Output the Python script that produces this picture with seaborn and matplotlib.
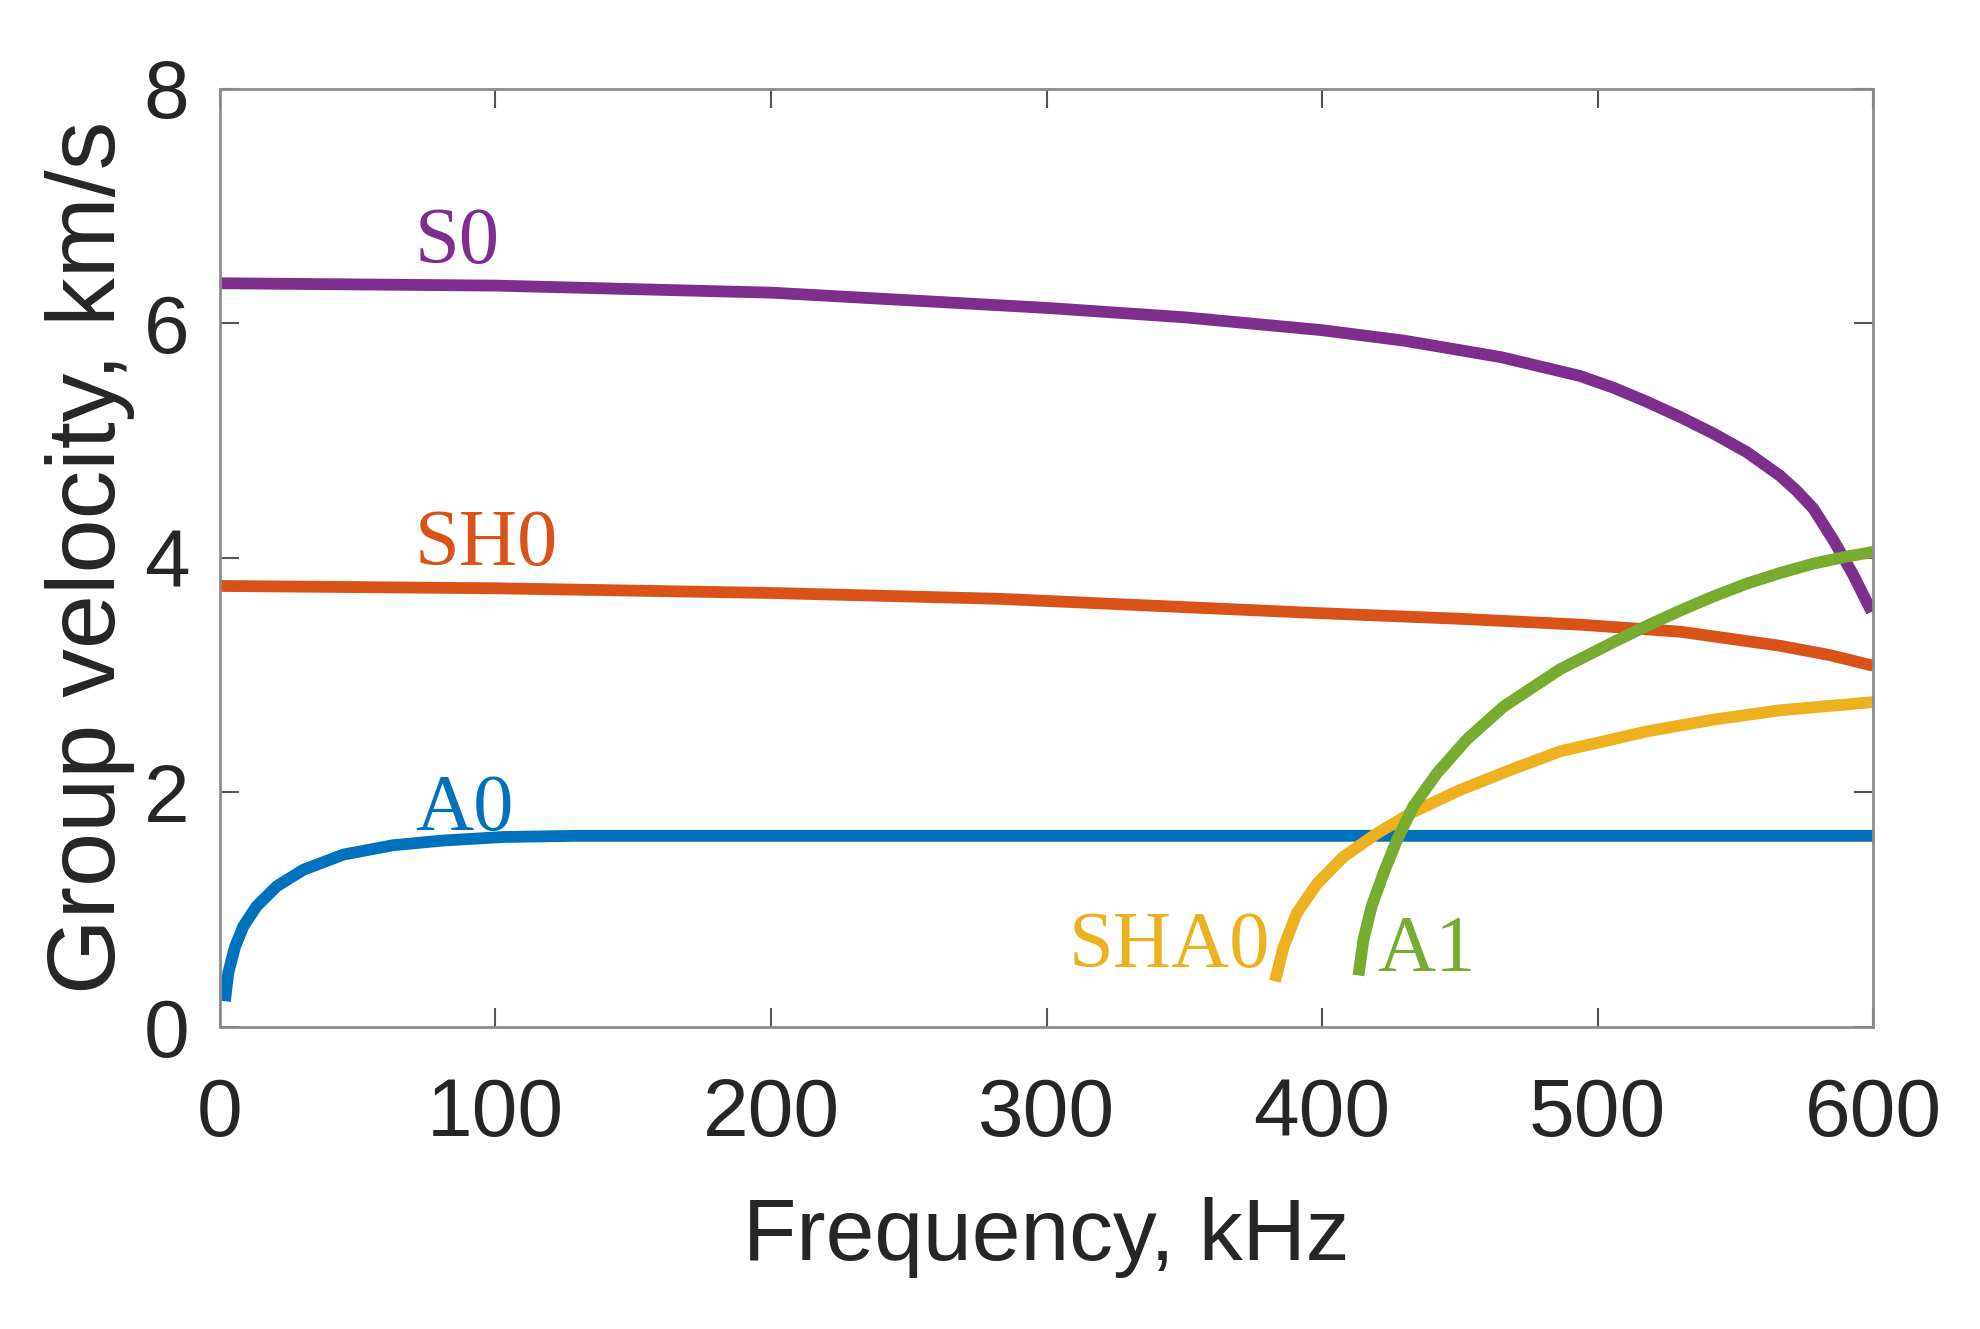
import pandas as pd
import matplotlib
matplotlib.use("Agg")
import matplotlib.pyplot as plt
import seaborn as sns

# group velocity curves (kHz, km/s)
s0_f = [0, 100, 200, 300, 350, 400, 430, 465, 493.6, 505.7, 517.9, 530, 542, 554.2,
        566.2, 572.3, 578.3, 585.6, 592.9, 599.5]
s0_v = [6.34, 6.32, 6.26, 6.13, 6.05, 5.94, 5.85, 5.71, 5.55, 5.45, 5.33, 5.20, 5.06, 4.90,
        4.70, 4.57, 4.42, 4.15, 3.85, 3.54]

sh0_f = [0, 100, 200, 283, 397, 450, 493.6, 530, 566.2, 584.4, 600]
sh0_v = [3.76, 3.74, 3.70, 3.65, 3.53, 3.48, 3.43, 3.37, 3.25, 3.17, 3.08]

a0_f = [1.8, 3.0, 5.4, 8.5, 13.3, 20.6, 30.2, 44.8, 62.9, 81.1, 102.8, 130, 200, 400, 600]
a0_v = [0.22, 0.46, 0.68, 0.86, 1.03, 1.20, 1.34, 1.47, 1.55, 1.59, 1.62, 1.63, 1.63, 1.63, 1.63]

sha0_f = [382.9, 386, 390.8, 398.1, 407.7, 419.9, 432, 450, 468.2, 486.4, 517.9, 542,
          566.2, 600]
sha0_v = [0.39, 0.68, 0.97, 1.22, 1.45, 1.65, 1.82, 2.02, 2.19, 2.35, 2.52, 2.62,
          2.70, 2.77]

a1_f = [413.2, 415, 418, 422.3, 427.1, 433.1, 441.6, 452.5, 465.8, 486.4, 505.7, 517.9,
        530, 542, 554.2, 566.2, 578.3, 590.4, 600]
a1_v = [0.44, 0.74, 1.03, 1.31, 1.59, 1.88, 2.16, 2.45, 2.73, 3.05, 3.28, 3.42,
        3.55, 3.67, 3.78, 3.87, 3.95, 4.01, 4.05]

modes = ["S0", "SH0", "A0", "SHA0", "A1"]
colors = ["#7E2F8E", "#D95319", "#0072BD", "#EDB120", "#77AC30"]
# label anchor (left, baseline) in data units
label_f = [70.8, 70.8, 70.8, 308, 420]
label_v = [6.51, 3.94, 1.68, 0.51, 0.48]

curves = {
    "S0": (s0_f, s0_v),
    "SH0": (sh0_f, sh0_v),
    "A0": (a0_f, a0_v),
    "SHA0": (sha0_f, sha0_v),
    "A1": (a1_f, a1_v),
}

frames = []
for m in modes:
    f, v = curves[m]
    frames.append(pd.DataFrame({"frequency": f, "velocity": v, "mode": m}))
df = pd.concat(frames, ignore_index=True)

sns.set_theme(style="white")
plt.rcParams["font.family"] = ["Liberation Sans", "DejaVu Sans"]
plt.rcParams["lines.solid_capstyle"] = "butt"

fig = plt.figure(figsize=(19.8, 13.29), dpi=100)
ax = fig.add_axes([0.1111, 0.2272, 0.8349, 0.7062])

sns.lineplot(
    data=df,
    x="frequency",
    y="velocity",
    hue="mode",
    hue_order=modes,
    palette=dict(zip(modes, colors)),
    estimator=None,
    linewidth=8.5,
    legend=False,
    ax=ax,
)

for m, c, lf, lv in zip(modes, colors, label_f, label_v):
    ax.text(lf, lv, m, color=c, fontsize=58, family="Liberation Serif",
            ha="left", va="baseline")

ax.set_xlim(0, 600)
ax.set_ylim(0, 8)
ax.set_xticks([0, 100, 200, 300, 400, 500, 600])
ax.set_yticks([0, 2, 4, 6, 8])

for side in ["left", "right", "top", "bottom"]:
    ax.spines[side].set_visible(True)
    ax.spines[side].set_color("#8c8c8c")
    ax.spines[side].set_linewidth(2)

ax.tick_params(axis="both", which="major", direction="in", length=14, width=1.5,
               color="#555555", labelsize=59, labelcolor="#262626",
               top=True, right=True, bottom=True, left=True)
ax.tick_params(axis="x", pad=36)
ax.tick_params(axis="y", pad=22)

ax.set_xlabel("Frequency, kHz", fontsize=63, color="#262626", labelpad=32)
ax.set_ylabel("Group velocity, km/s", fontsize=70, color="#262626", labelpad=6)

fig.savefig("out.png", dpi=100)
